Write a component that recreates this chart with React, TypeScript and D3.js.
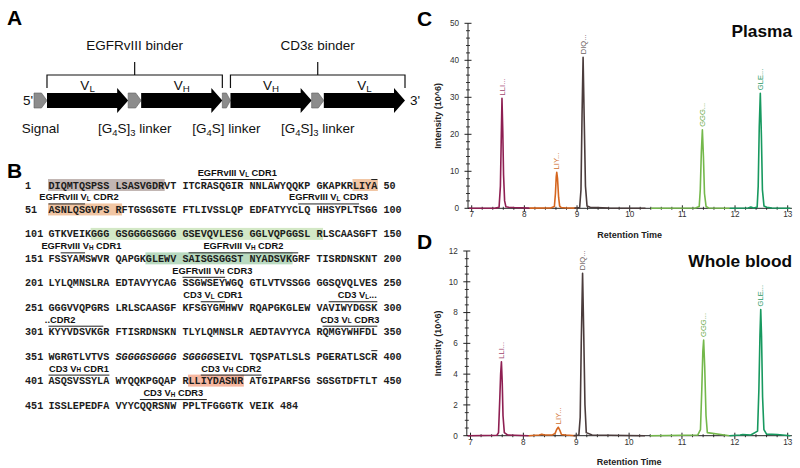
import React from "react";
import * as d3 from "d3";

const SANS = "'Liberation Sans', Arial, Helvetica, sans-serif";
const MONO = "'Liberation Mono', 'Courier New', monospace";

// ---------------- Panel A data ----------------
const constructParts = [
  { name: "Signal", kind: "linker", span: 0.16 },
  { name: "V_L", kind: "domain", span: 1 },
  { name: "[G_4S]_3 linker", kind: "linker", span: 0.16 },
  { name: "V_H", kind: "domain", span: 1 },
  { name: "[G_4S] linker", kind: "linker", span: 0.1 },
  { name: "V_H", kind: "domain", span: 1 },
  { name: "[G_4S]_3 linker", kind: "linker", span: 0.15 },
  { name: "V_L", kind: "domain", span: 1 },
];
const binders = [
  { name: "EGFRvIII binder", from: 1, to: 3 },
  { name: "CD3ε binder", from: 5, to: 7 },
];

// ---------------- Panel B data ----------------
const seqRows = [
  "DIQMTQSPSSLSASVGDRVTITCRASQGIRNNLAWYQQKPGKAPKRLIYA",
  "ASNLQSGVPSRFTGSGSGTEFTLIVSSLQPEDFATYYCLQHHSYPLTSGG",
  "GTKVEIKGGGGSGGGGSGGGGSEVQVLESGGGLVQPGGSLRLSCAASGFT",
  "FSSYAMSWVRQAPGKGLEWVSAISGSGGSTNYADSVKGRFTISRDNSKNT",
  "LYLQMNSLRAEDTAVYYCAGSSGWSEYWGQGTLVTVSSGGGGSQVQLVES",
  "GGGVVQPGRSLRLSCAASGFKFSGYGMHWVRQAPGKGLEWVAVIWYDGSK",
  "KYYVDSVKGRFTISRDNSKNTLYLQMNSLRAEDTAVYYCARQMGYWHFDL",
  "WGRGTLVTVSSGGGGSGGGGSGGGGSEIVLTQSPATLSLSPGERATLSCR",
  "ASQSVSSYLAWYQQKPGQAPRLLIYDASNRATGIPARFSGSGSGTDFTLT",
  "ISSLEPEDFAVYYCQQRSNWPPLTFGGGTKVEIK",
];
const highlights = [
  { from: 1, to: 18, color: "#c2b6b3" },
  { from: 47, to: 50, color: "#f1c6a4" },
  { from: 51, to: 61, color: "#f1c6a4" },
  { from: 108, to: 141, color: "#d3e8c6" },
  { from: 166, to: 187, color: "#b9dac0" },
  { from: 422, to: 430, color: "#f6b7a0" },
];
const italicRanges = [{ from: 361, to: 375 }];
const cdrMarks = [
  { label: "EGFRvIII V_L CDR1", from: 24, to: 34 },
  { label: "", from: 50, to: 50 },
  { label: "EGFRvIII V_L CDR2", from: 51, to: 56, labelRes: 55.5 },
  { label: "EGFRvIII V_L CDR3", from: 89, to: 97 },
  { label: "EGFRvIII V_H CDR1", from: 153, to: 156, labelRes: 155.9 },
  { label: "EGFRvIII V_H CDR2", from: 172, to: 188 },
  { label: "EGFRvIII V_H CDR3", from: 221, to: 227, labelRes: 225.4 },
  { label: "CD3 V_L CDR1", from: 274, to: 277 },
  { label: "CD3 V_L...", from: 293, to: 300, labelRes: 297.2 },
  { label: "..CDR2", from: 301, to: 309, labelRes: 302.4 },
  { label: "CD3 V_L CDR3", from: 342, to: 350 },
  { label: "", from: 400, to: 400 },
  { label: "CD3 V_H CDR1", from: 401, to: 410 },
  { label: "CD3 V_H CDR2", from: 424, to: 432 },
  { label: "CD3 V_H CDR3", from: 465, to: 474 },
];
const totalResidues = 484;

// ---------------- Panels C / D data ----------------
const xTicks = [7, 8, 9, 10, 11, 12, 13];
const plasmaYTicks = [0, 10, 20, 30, 40, 50];
const bloodYTicks = [0, 2, 4, 6, 8, 10, 12];
const peptideNames = ["LLI...", "LIY...", "DIQ...", "GGG...", "GLE..."];
const traceColors = ["#8e1f52", "#d5661f", "#4b3c3c", "#74b84b", "#17995f"];
const labelColors = ["#a2466f", "#cf6e2e", "#6b6060", "#6aaa4a", "#2b9a68"];

const plasmaLLI: [number, number][] = [[6.95, 0], [7.45, 0.05], [7.52, 0.3], [7.545, 6], [7.56, 18], [7.575, 29.7], [7.59, 21], [7.605, 9], [7.625, 2], [7.65, 0.4], [7.7, 0.3], [7.8, 0.2], [8.1, 0.05]];
const plasmaLIY: [number, number][] = [[8.1, 0.05], [8.5, 0.1], [8.57, 0.5], [8.59, 4], [8.605, 8.5], [8.615, 9.7], [8.63, 8], [8.65, 3], [8.67, 0.6], [8.7, 0.2], [8.8, 0.1], [9.0, 0.05]];
const plasmaDIQ: [number, number][] = [[8.95, 0], [9.05, 0.2], [9.075, 5], [9.095, 25], [9.115, 40.8], [9.135, 25], [9.16, 6], [9.19, 0.6], [9.25, 0.3], [9.6, 0.1], [10.3, 0]];
const plasmaGGG: [number, number][] = [[10.4, 0], [11.25, 0.1], [11.32, 0.5], [11.34, 5], [11.36, 15], [11.38, 21.2], [11.4, 14], [11.42, 4], [11.45, 0.5], [11.5, 0.1], [11.9, 0]];
const plasmaGLE: [number, number][] = [[11.9, 0], [12.25, 0.1], [12.3, 0.35], [12.35, 0.1], [12.42, 0.3], [12.44, 6], [12.46, 22], [12.48, 31.1], [12.5, 20], [12.52, 5], [12.55, 0.6], [12.6, 0.3], [12.7, 0.1], [13.05, 0]];

const bloodLLI: [number, number][] = [[6.95, 0], [7.5, 0.03], [7.53, 0.2], [7.555, 2.5], [7.57, 4.0], [7.585, 4.8], [7.6, 3.5], [7.615, 1.3], [7.64, 0.2], [7.7, 0.05], [8.1, 0]];
const bloodLIY: [number, number][] = [[8.1, 0], [8.3, 0.05], [8.35, 0.1], [8.4, 0.05], [8.55, 0.05], [8.6, 0.15], [8.63, 0.4], [8.66, 0.55], [8.69, 0.35], [8.72, 0.08], [8.8, 0.05], [9.0, 0]];
const bloodDIQ: [number, number][] = [[8.95, 0], [9.05, 0.05], [9.075, 1.2], [9.095, 6], [9.12, 10.55], [9.14, 7], [9.165, 2], [9.19, 0.2], [9.3, 0.05], [10.3, 0]];
const bloodGGG: [number, number][] = [[10.4, 0], [11.3, 0.05], [11.35, 0.4], [11.375, 3], [11.395, 5.5], [11.41, 6.22], [11.43, 4.5], [11.455, 1.3], [11.48, 0.2], [11.8, 0.05], [11.9, 0]];
const bloodGLE: [number, number][] = [[11.9, 0], [12.1, 0.05], [12.15, 0.08], [12.3, 0.05], [12.43, 0.3], [12.455, 3], [12.475, 6.5], [12.49, 8.2], [12.505, 6.5], [12.525, 2.5], [12.55, 0.4], [12.6, 0.1], [12.8, 0.08], [13.05, 0]];

const plasmaTraces = [plasmaLLI, plasmaLIY, plasmaDIQ, plasmaGGG, plasmaGLE];
const bloodTraces = [bloodLLI, bloodLIY, bloodDIQ, bloodGGG, bloodGLE];

// ---------------- helpers ----------------
function rich(str: string, subScale: number, subShift: number) {
  const parts = str.split(/(_.)/).filter((s) => s.length > 0);
  const out: any[] = [];
  let shifted = false;
  parts.forEach((p, i) => {
    if (p[0] === "_" && p.length === 2) {
      out.push(
        <tspan key={i} fontSize={`${subScale}em`} dy={shifted ? 0 : subShift}>
          {p[1]}
        </tspan>
      );
      shifted = true;
    } else {
      out.push(
        <tspan key={i} dy={shifted ? -subShift : 0}>
          {p}
        </tspan>
      );
      shifted = false;
    }
  });
  return out;
}

function PanelA() {
  const total = d3.sum(constructParts, (d) => d.span);
  const x = d3.scaleLinear().domain([0, total]).range([34, 405]);
  const ends = Array.from(d3.cumsum(constructParts.map((d) => d.span)));
  const starts = ends.map((e, i) => e - constructParts[i].span);
  const cy = 100.5;
  const shaft = 7.5;
  const head = 12.5;
  const headLen = 11;
  return (
    <g fontFamily={SANS}>
      <text x={7} y={25} fontSize={21} fontWeight="bold">A</text>
      {binders.map((b, i) => {
        const x0 = x(starts[b.from]);
        const x1 = x(ends[b.to]);
        const xm = (x0 + x1) / 2;
        return (
          <g key={i}>
            <text x={xm} y={50} fontSize={13.5} textAnchor="middle" fill="#111">{b.name}</text>
            <path d={`M${xm},62 V75 M${x0},88 V75 H${x1} V88`} fill="none" stroke="#111" strokeWidth={1.2} />
          </g>
        );
      })}
      {constructParts.map((p, i) => {
        const x0 = x(starts[i]);
        const x1 = x(ends[i]);
        if (p.kind === "domain") {
          const d = `M${x0},${cy - shaft} L${x1 - headLen},${cy - shaft} L${x1 - headLen},${cy - head} L${x1},${cy} L${x1 - headLen},${cy + head} L${x1 - headLen},${cy + shaft} L${x0},${cy + shaft} Z`;
          return (
            <g key={i}>
              <path d={d} fill="#000" />
              <text x={(x0 + x1) / 2} y={90} fontSize={13.5} textAnchor="middle" fill="#111">
                {rich(p.name, 0.72, 2)}
              </text>
            </g>
          );
        }
        const pt = Math.min(5.5, (x1 - x0) * 0.5);
        const d = `M${x0},${cy - shaft} L${x1 - pt},${cy - shaft} L${x1},${cy} L${x1 - pt},${cy + shaft} L${x0},${cy + shaft} Z`;
        return (
          <g key={i}>
            <path d={d} fill="#8c8c8c" stroke="#5e5e5e" strokeWidth={0.6} />
            <text x={(x0 + x1) / 2} y={133} fontSize={13.5} textAnchor="middle" fill="#111">
              {rich(p.name, 0.7, 3)}
            </text>
          </g>
        );
      })}
      <text x={28} y={105} fontSize={13.5} textAnchor="middle" fill="#111">5'</text>
      <text x={415} y={105} fontSize={13.5} textAnchor="middle" fill="#111">3'</text>
    </g>
  );
}

function PanelB() {
  const CW = 6.09;
  const X0 = 48.5;
  const rowY = d3.scaleLinear().domain([0, 9]).range([188.5, 188.5 + 9 * 24.45]);
  const idxOf = (r: number) => r - 1 - Math.floor((r - 1) / 50) * 50;
  const rowOf = (r: number) => Math.floor((r - 1) / 50);
  const xAt = (r: number) => {
    const i = idxOf(r);
    return X0 + (i + Math.floor(i / 10)) * CW;
  };
  const isItalic = (r: number) => italicRanges.some((g) => r >= g.from && r <= g.to);

  const rows = seqRows.map((row, ri) => {
    const blocks: { text: string; italic: boolean; start: number }[][] = [];
    for (let b = 0; b * 10 < row.length; b++) {
      const chunk = row.slice(b * 10, b * 10 + 10);
      const runs: { text: string; italic: boolean; start: number }[] = [];
      for (let c = 0; c < chunk.length; c++) {
        const res = ri * 50 + b * 10 + c + 1;
        const it = isItalic(res);
        const last = runs[runs.length - 1];
        if (last && last.italic === it) last.text += chunk[c];
        else runs.push({ text: chunk[c], italic: it, start: res });
      }
      blocks.push(runs);
    }
    return blocks;
  });

  return (
    <g>
      <text x={7} y={178} fontSize={21} fontWeight="bold" fontFamily={SANS}>B</text>
      {highlights.map((h, i) => {
        const y = rowY(rowOf(h.from));
        const x0 = xAt(h.from) - 0.5;
        const x1 = xAt(h.to) + CW + 0.5;
        return <rect key={i} x={x0} y={y - 9.5} width={x1 - x0} height={12} fill={h.color} />;
      })}
      {seqRows.map((row, ri) => {
        const y = rowY(ri);
        const first = ri * 50 + 1;
        const last = ri * 50 + row.length;
        const endX = X0 + (row.length + Math.ceil(row.length / 10)) * CW;
        return (
          <g key={ri} fontFamily={MONO} fontWeight="bold" fontSize={10.15} fill="#1c1c1c">
            <text x={25} y={y}>{first}</text>
            {rows[ri].map((runs, bi) =>
              runs.map((run, k) => (
                <text key={`${bi}-${k}`} x={xAt(run.start)} y={y} fontStyle={run.italic ? "italic" : "normal"}>
                  {run.text}
                </text>
              ))
            )}
            <text x={endX} y={y}>{last === totalResidues ? totalResidues : last}</text>
          </g>
        );
      })}
      {cdrMarks.map((m, i) => {
        const y = rowY(rowOf(m.from));
        const x0 = xAt(m.from);
        const x1 = xAt(m.to) + CW;
        const cx = m.labelRes !== undefined ? xAt(m.labelRes) + CW / 2 : (x0 + x1) / 2;
        return (
          <g key={i}>
            <line x1={x0} x2={x1} y1={y - 9} y2={y - 9} stroke="#222" strokeWidth={1} />
            {m.label && (
              <text x={cx} y={y - 12.5} fontSize={9.3} fontWeight="bold" fontFamily={SANS} textAnchor="middle" fill="#111">
                {rich(m.label, 0.68, 0.5)}
              </text>
            )}
          </g>
        );
      })}
    </g>
  );
}

function Chrom(props: {
  letter: string;
  title: string;
  traces: [number, number][][];
  yTicks: number[];
  yMinor: number;
  y0: number;
  yTop: number;
  xLeft: number;
  titleBase: number;
  letterBase: number;
}) {
  const { letter, title, traces, yTicks, yMinor, y0, yTop, xLeft, titleBase, letterBase } = props;
  const yMax = yTicks[yTicks.length - 1];
  const x = d3.scaleLinear().domain([7, 13]).range([xLeft, 787.7]);
  const y = d3.scaleLinear().domain([0, yMax]).range([y0, yTop]);
  const line = d3
    .line<[number, number]>()
    .x((d) => x(d[0]))
    .y((d) => y(d[1]));
  const axX = x(6.93);
  const xMinor = d3.range(7, 13.001, 0.2).filter((v) => Math.abs(v - Math.round(v)) > 0.01);
  const yMinorTicks = d3.range(0, yMax + 0.001, yMinor).filter((v) => !yTicks.some((t) => Math.abs(t - v) < 1e-6));
  return (
    <g fontFamily={SANS}>
      <text x={417} y={letterBase} fontSize={21} fontWeight="bold">{letter}</text>
      <text x={792} y={titleBase} fontSize={17.3} fontWeight="bold" textAnchor="end" fill="#0a0a0a">{title}</text>
      <line x1={axX} x2={axX} y1={yTop} y2={y0} stroke="#222" strokeWidth={1} />
      <line x1={axX} x2={x(13.08)} y1={y0} y2={y0} stroke="#222" strokeWidth={1} />
      {yTicks.map((t) => (
        <g key={`yt${t}`}>
          <line x1={axX - 3.5} x2={axX + 3.5} y1={y(t)} y2={y(t)} stroke="#222" strokeWidth={1} />
          <text x={axX - 9} y={y(t)} dy="0.35em" fontSize={8.2} textAnchor="end" fill="#333">{t}</text>
        </g>
      ))}
      {yMinorTicks.map((t, i) => (
        <line key={`ym${i}`} x1={axX - 2} x2={axX + 2} y1={y(t)} y2={y(t)} stroke="#222" strokeWidth={0.9} />
      ))}
      {xTicks.map((t) => (
        <g key={`xt${t}`}>
          <line x1={x(t)} x2={x(t)} y1={y0 - 3} y2={y0 + 3.5} stroke="#222" strokeWidth={1} />
          <text x={x(t)} y={y0 + 9} fontSize={8.2} textAnchor="middle" fill="#333">{t}</text>
        </g>
      ))}
      {xMinor.map((t, i) => (
        <line key={`xm${i}`} x1={x(t)} x2={x(t)} y1={y0 - 1.5} y2={y0 + 1.5} stroke="#222" strokeWidth={0.9} />
      ))}
      <text x={x(10)} y={y0 + 29.5} fontSize={9} fontWeight="bold" textAnchor="middle" fill="#222">Retention Time</text>
      <text transform={`translate(440.5,${(y0 + yTop) / 2}) rotate(-90)`} fontSize={9} fontWeight="bold" textAnchor="middle" fill="#222">
        Intensity (10^6)
      </text>
      {traces.map((tr, i) => (
        <path key={`tr${i}`} d={line(tr) || ""} fill="none" stroke={traceColors[i]} strokeWidth={1.6} strokeLinejoin="round" />
      ))}
      {traces.map((tr, i) => {
        const top = tr.reduce((a, b) => (b[1] > a[1] ? b : a));
        return (
          <text
            key={`pl${i}`}
            transform={`translate(${x(top[0])},${y(top[1]) - 3}) rotate(-90)`}
            dy="0.35em"
            fontSize={7.6}
            fill={labelColors[i]}
          >
            {peptideNames[i]}
          </text>
        );
      })}
    </g>
  );
}

export default function App() {
  return (
    <svg
      width={800}
      height={468}
      viewBox="0 0 800 468"
      style={{ position: "absolute", left: 0, top: 0, display: "block", background: "#fff" }}
    >
      <rect x={0} y={0} width={800} height={468} fill="#fff" />
      <PanelA />
      <PanelB />
      <Chrom letter="C" title="Plasma" traces={plasmaTraces} yTicks={plasmaYTicks} yMinor={2} y0={208.3} yTop={23.3} xLeft={471.7} titleBase={36.7} letterBase={26} />
      <Chrom letter="D" title="Whole blood" traces={bloodTraces} yTicks={bloodYTicks} yMinor={0.5} y0={435.7} yTop={251} xLeft={470.5} titleBase={266.7} letterBase={249} />
    </svg>
  );
}
